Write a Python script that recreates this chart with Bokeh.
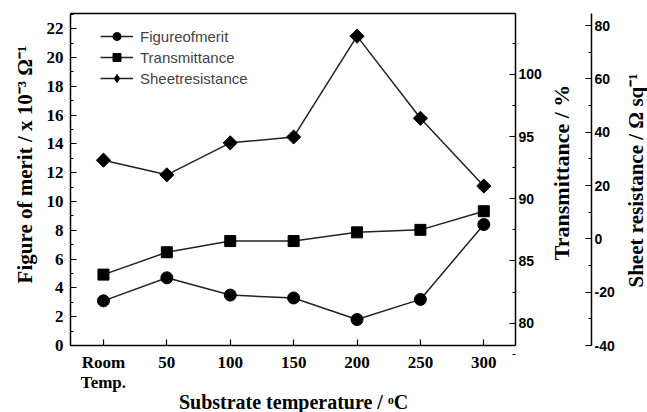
import math
from bokeh.plotting import figure
from bokeh.models import Range1d, LinearAxis, FixedTicker, Legend, LegendItem, Label
from bokeh.embed import file_html
from bokeh.resources import INLINE

temps = [0, 50, 100, 150, 200, 250, 300]
temp_tick_labels = ["Room\nTemp.", "50", "100", "150", "200", "250", "300"]
figure_of_merit = [3.1, 4.7, 3.5, 3.3, 1.8, 3.2, 8.4]
transmittance = [83.9, 85.7, 86.6, 86.6, 87.3, 87.5, 89.0]
sheet_resistance = [29.5, 24.0, 36.0, 38.2, 76.0, 45.2, 19.8]
legend_labels = ["Figureofmerit", "Transmittance", "Sheetresistance"]
fom_ticks = list(range(0, 23, 2))
trans_ticks = [80, 85, 90, 95, 100]
sheet_ticks = [-40, -20, 0, 20, 40, 60, 80]
x_title = "Substrate temperature / ᵒC"
fom_title = "Figure of merit / x 10⁻³ Ω⁻¹"
trans_title = "Transmittance / %"
sheet_title = "Sheet resistance / Ω sq⁻¹"

SERIF = "Liberation Serif"
SANS = "Liberation Sans"

# whole canvas is the drawing area; the plotting box sits inside it
W, H = 647, 412
BOX_L, BOX_T, BOX_R, BOX_B = 70, 13, 515, 345
X0, X1 = -26, 325
Y0, Y1 = 0, 23.05
T0, T1 = 78.2, 104.9
S0, S1 = -40, 84.5

PX = (X1 - X0) / (BOX_R - BOX_L)
RY = (Y1 - Y0) / (BOX_B - BOX_T)
RT = (T1 - T0) / (BOX_B - BOX_T)
RS = (S1 - S0) / (BOX_B - BOX_T)


def xpix(px):
    return X0 + (px - BOX_L) * PX


def ypix(py):
    return Y0 + (BOX_B - py) * RY


p = figure(frame_width=W, frame_height=H, output_backend="svg", toolbar_location=None,
           x_range=Range1d(xpix(0), xpix(W)), y_range=Range1d(ypix(H), ypix(0)),
           min_border_left=0, min_border_top=0, min_border_right=0, min_border_bottom=0,
           background_fill_color="white", border_fill_color="white")
p.extra_y_ranges = {"trans": Range1d(T0 - (H - BOX_B) * RT, T1 + BOX_T * RT),
                    "sheet": Range1d(S0 - (H - BOX_B) * RS, S1 + BOX_T * RS)}
p.xgrid.visible = False
p.ygrid.visible = False
p.outline_line_color = None

tick_style = dict(axis_line_width=1.5, axis_line_color="black",
                  major_tick_in=6, major_tick_out=0, minor_tick_in=3, minor_tick_out=0,
                  major_tick_line_width=1.2, minor_tick_line_width=1.2,
                  major_label_text_color="black")

# bottom axis
xa = p.xaxis[0]
xa.ticker = FixedTicker(ticks=temps)
xa.major_label_overrides = {t: l for t, l in zip(temps, temp_tick_labels)}
xa.fixed_location = Y0
xa.bounds = (X0, X1)
# left axis
ya = p.yaxis[0]
ya.ticker = FixedTicker(ticks=fom_ticks, minor_ticks=list(range(0, 24, 1)))
ya.fixed_location = X0
ya.bounds = (Y0, Y1)
for ax in (xa, ya):
    for k, v in tick_style.items():
        setattr(ax, k, v)
    ax.major_label_text_font = SERIF
    ax.major_label_text_font_style = "bold"
    ax.major_label_text_font_size = "17px"
xa.minor_tick_line_color = None
xa.major_label_standoff = 7
xa.major_label_text_line_height = 1.1
ya.major_label_standoff = 7

# top border of the plotting box
top = LinearAxis(ticker=FixedTicker(ticks=[]), fixed_location=Y1, bounds=(X0, X1),
                 major_label_text_font_size="0px", **tick_style)
p.add_layout(top, "above")

ta = LinearAxis(y_range_name="trans", fixed_location=X1, bounds=(T0, T1),
                ticker=FixedTicker(ticks=trans_ticks,
                                   minor_ticks=[77.5, 80, 82.5, 85, 87.5, 90, 92.5, 95, 97.5, 100, 102.5]),
                **tick_style)
sa = LinearAxis(y_range_name="sheet", fixed_location=xpix(591), bounds=(S0, S1),
                ticker=FixedTicker(ticks=sheet_ticks, minor_ticks=list(range(-40, 85, 10))),
                **tick_style)
sa.major_label_overrides = {t: str(t) for t in sheet_ticks}
for ax in (ta, sa):
    ax.major_label_text_font = SANS
    ax.major_label_text_font_style = "bold"
    ax.major_label_text_font_size = "14px"
    ax.major_label_standoff = 3
p.add_layout(ta, "right")
p.add_layout(sa, "right")

title_kw = dict(text_align="center", text_baseline="middle",
                text_font=SERIF, text_font_style="bold", text_color="black")
p.add_layout(Label(x=xpix(24), y=ypix(164), angle=math.pi / 2, text=fom_title,
                   text_font_size="21px", **title_kw))
p.add_layout(Label(x=xpix(293), y=ypix(401), text=x_title, text_font_size="20px", **title_kw))
p.add_layout(Label(x=xpix(561), y=ypix(172), angle=math.pi / 2, text=trans_title,
                   text_font_size="22px", **title_kw))
p.add_layout(Label(x=xpix(635), y=ypix(180), angle=math.pi / 2, text=sheet_title,
                   text_font_size="21px", **title_kw))

line_kw = dict(line_color="#222222", line_width=1.5)
l1 = p.line(temps, figure_of_merit, **line_kw)
s1 = p.scatter(temps, figure_of_merit, marker="circle", size=12, fill_color="black", line_color="black")
l2 = p.line(temps, transmittance, y_range_name="trans", **line_kw)
s2 = p.scatter(temps, transmittance, y_range_name="trans", marker="square", size=11,
               fill_color="black", line_color="black")
l3 = p.line(temps, sheet_resistance, y_range_name="sheet", **line_kw)
s3 = p.scatter(temps, sheet_resistance, y_range_name="sheet", marker="square", angle=math.pi / 4,
               size=10, fill_color="black", line_color="black")
# marker used only for the legend swatch (diamond shape)
s3_key = p.scatter([float("nan")], [float("nan")], y_range_name="sheet", marker="diamond",
                   size=16, fill_color="black", line_color="black")

legend = Legend(items=[LegendItem(label=legend_labels[0], renderers=[l1, s1]),
                       LegendItem(label=legend_labels[1], renderers=[l2, s2]),
                       LegendItem(label=legend_labels[2], renderers=[l3, s3_key])],
                location=(100, H - 88), padding=0, margin=0, spacing=1,
                glyph_width=33, glyph_height=20, label_standoff=7,
                label_text_font=SANS, label_text_font_size="15px",
                background_fill_alpha=0, border_line_alpha=0)
p.add_layout(legend, "center")

open("out.html", "w").write(file_html(p, INLINE))
